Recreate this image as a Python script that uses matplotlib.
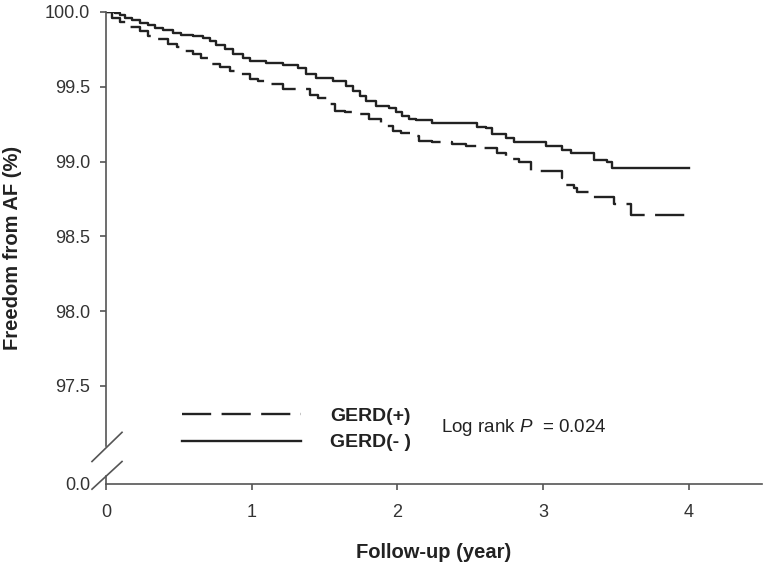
import matplotlib
matplotlib.use("Agg")
from matplotlib import pyplot as plt
from matplotlib.lines import Line2D

plt.rcParams['font.family'] = ['Liberation Sans', 'DejaVu Sans']
plt.rcParams['mathtext.fontset'] = 'custom'
plt.rcParams['mathtext.rm'] = 'Liberation Sans'
plt.rcParams['mathtext.it'] = 'Liberation Sans:italic'
plt.rcParams['lines.scale_dashes'] = False

# GERD(-) step curve (years, freedom from AF %)
neg_t = [0.0, 0.062, 0.096, 0.130, 0.176, 0.233, 0.288, 0.336, 0.390, 0.459,
         0.518, 0.596, 0.664, 0.712, 0.758, 0.815, 0.870, 0.938, 0.986, 1.101,
         1.212, 1.315, 1.375, 1.443, 1.555, 1.649, 1.692, 1.740, 1.786, 1.854,
         1.945, 1.991, 2.034, 2.082, 2.128, 2.240, 2.548, 2.608, 2.651, 2.745,
         2.801, 3.018, 3.130, 3.192, 3.349, 3.438, 3.473, 4.0]
neg_s = [100.0, 99.995, 99.977, 99.957, 99.944, 99.928, 99.912, 99.890, 99.877, 99.861,
         99.845, 99.839, 99.823, 99.805, 99.778, 99.750, 99.716, 99.689, 99.671, 99.661,
         99.645, 99.622, 99.587, 99.560, 99.537, 99.504, 99.471, 99.437, 99.404, 99.370,
         99.355, 99.333, 99.303, 99.281, 99.276, 99.259, 99.234, 99.226, 99.181, 99.159,
         99.132, 99.102, 99.080, 99.060, 99.013, 99.000, 98.960, 98.960]

# GERD(+) step curve
pos_t = [0.0, 0.039, 0.096, 0.164, 0.233, 0.288, 0.356, 0.425, 0.484, 0.541,
         0.596, 0.655, 0.724, 0.781, 0.849, 0.918, 0.986, 1.041, 1.123, 1.212,
         1.397, 1.452, 1.521, 1.568, 1.637, 1.717, 1.808, 1.888, 1.966, 2.025,
         2.103, 2.151, 2.240, 2.377, 2.471, 2.562, 2.685, 2.745, 2.836, 2.916,
         3.130, 3.158, 3.212, 3.233, 3.329, 3.486, 3.603, 4.0]
pos_s = [100.0, 99.962, 99.935, 99.899, 99.872, 99.839, 99.817, 99.783, 99.765, 99.738,
         99.721, 99.694, 99.654, 99.631, 99.604, 99.582, 99.555, 99.537, 99.520, 99.482,
         99.448, 99.422, 99.382, 99.341, 99.333, 99.315, 99.281, 99.236, 99.203, 99.192,
         99.174, 99.136, 99.129, 99.120, 99.102, 99.092, 99.058, 99.018, 98.995, 98.935,
         98.893, 98.846, 98.826, 98.799, 98.766, 98.719, 98.645, 98.645]

y_ticks = [97.5, 98.0, 98.5, 99.0, 99.5, 100.0]
x_ticks = [0, 1, 2, 3, 4]
y_floor = 96.845  # where the broken axis shows 0.0

ink = '#222222'
axis_col = '#555555'
dash = (0, (21, 7.5))

fig = plt.figure(figsize=(7.68, 5.68), dpi=100)
ax = fig.add_axes([0.138, 0.148, 0.854, 0.831])

ax.step(pos_t, pos_s, where='post', color=ink, lw=1.7, ls=dash)
ax.step(neg_t, neg_s, where='post', color=ink, lw=1.7)

ax.set_xlim(0, 4.5)
ax.set_ylim(y_floor, 100.0)

ax.spines['top'].set_visible(False)
ax.spines['right'].set_visible(False)
for s in ['left', 'bottom']:
    ax.spines[s].set_color(axis_col)
    ax.spines[s].set_linewidth(1.2)
ax.spines['left'].set_bounds(97.10, 100.0)

# axis break marks
brk = dict(color=axis_col, lw=1.2, clip_on=False)
ax.plot([0, 0], [y_floor, 96.90], **brk)
ax.plot([-0.096, 0.110], [96.995, 97.19], **brk)
ax.plot([-0.096, 0.110], [96.81, 96.995], **brk)

ax.set_yticks([y_floor] + y_ticks)
ax.set_yticklabels(['0.0'] + ['%.1f' % v for v in y_ticks])
ax.set_xticks(x_ticks)
ax.set_xticklabels([str(v) for v in x_ticks])
ax.tick_params(axis='both', direction='out', length=4.5, width=1.2,
               color=axis_col, labelcolor='#333333', labelsize=13)
ax.tick_params(axis='y', pad=7)
ax.tick_params(axis='x', pad=10)
ax.yaxis.get_major_ticks()[0].tick1line.set_visible(False)

ax.set_xlabel('Follow-up (year)', fontsize=14.5, fontweight='bold', color=ink)
ax.set_ylabel('Freedom from AF (%)', fontsize=14.5, fontweight='bold', color=ink)
ax.xaxis.set_label_coords(0.5, -0.125)
ax.yaxis.set_label_coords(-0.128, 0.5)

handles = [Line2D([], [], color=ink, lw=1.7, ls=dash),
           Line2D([], [], color=ink, lw=1.7)]
leg = ax.legend(handles, ['GERD(+)', 'GERD(- )'], loc='upper left',
                bbox_to_anchor=(0.116, 0.162), frameon=False, borderpad=0,
                borderaxespad=0, handlelength=6.1, handletextpad=1.5,
                labelspacing=0.45, prop={'weight': 'bold', 'size': 14})
for t in leg.get_texts():
    t.set_color(ink)

ax.text(2.30, 97.225, 'Log rank $P$  = 0.024', fontsize=13.5, color=ink,
        va='center', ha='left')

fig.savefig('out.png', dpi=100)
